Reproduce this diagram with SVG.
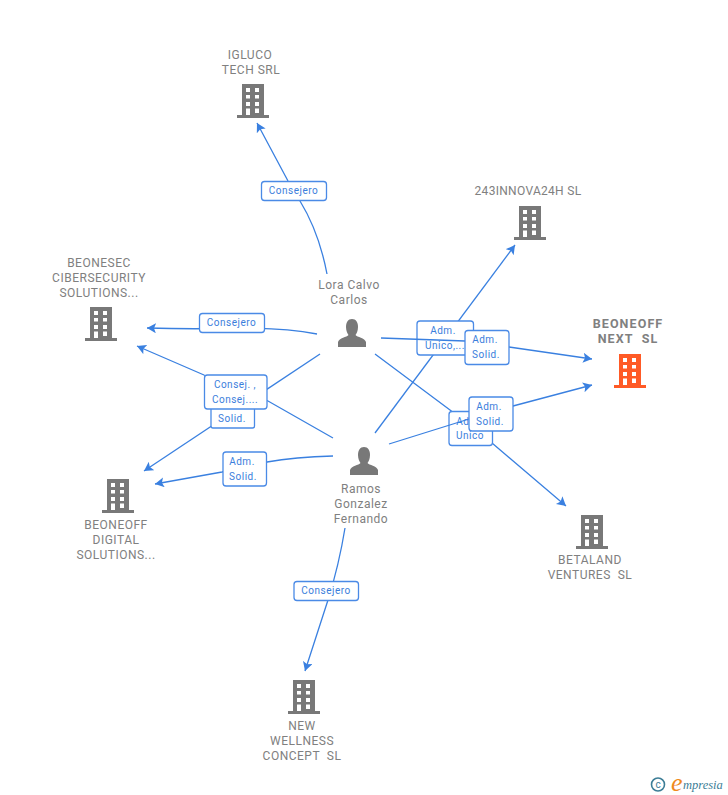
<svg xmlns="http://www.w3.org/2000/svg" xmlns:xlink="http://www.w3.org/1999/xlink" width="728" height="795" viewBox="0 0 728 795">
<style>
text{font-family:Roboto,"Liberation Sans",sans-serif;white-space:pre}
.n{font-size:12px;fill:#808080;text-anchor:middle;letter-spacing:.5px}
.h{font-size:12.500px;fill:#808080;text-anchor:middle;font-weight:700;letter-spacing:1.100px}
.e{fill:none;stroke:#3a80e0;stroke-width:1.300}
.b{fill:#fff;stroke:#4a8ae6;stroke-width:1.300}
.t{font-size:10px;fill:#3a7edc;text-anchor:middle;letter-spacing:.5px}
.g{fill:#787878}
.o{fill:#ff5a26}
.w{fill:#fff}
</style>
<defs>
<marker id="a" markerWidth="11" markerHeight="11" refX="9" refY="5" orient="auto" markerUnits="userSpaceOnUse"><path d="M0 0L9 5L0 10L2 5Z" fill="#3a80e0"/></marker>
<symbol id="bld" width="32" height="34" viewBox="0 0 32 34" overflow="visible">
<path d="M5 0H27V31H32V34H0V31H5Z"/>
<path class="w" d="M9 4h4v4h-4zM18 4h4v4h-4zM9 11h4v3.500h-4zM18 11h4v3.500h-4zM9 18h4v4h-4zM18 18h4v4h-4zM9 24.500h4v6.500h-4zM18 24.500h4v4.500h-4z"/>
</symbol>
<symbol id="per" width="28" height="28" viewBox="0 0 28 28">
<path d="M14 0C18 0 20 3.500 20 8C20 12 18.500 14.500 17.500 16C19 18 27 19 28 23V28H0V23C1 19 9 18 10.500 16C9.500 14.500 8 12 8 8C8 3.500 10 0 14 0Z"/>
</symbol>
</defs>
<rect width="728" height="795" fill="#fff"/>
<g id="connectors">
<path class="e" marker-end="url(#a)" d="M327 274Q319 232 300 201L288 181L257 123"/>
<rect class="b" x="261.500" y="181.500" width="65" height="19" rx="3"/><text class="t" x="293.500" y="194">Consejero</text>
<path class="e" marker-end="url(#a)" d="M317 334C295 330 265 328 240 328C210 329 180 329 147 328"/>
<rect class="b" x="199.500" y="313.500" width="65" height="19" rx="3"/><text class="t" x="231.500" y="326">Consejero</text>
<path class="e" marker-end="url(#a)" d="M320 354L144 471"/>
<rect class="b" x="211" y="405" width="43.500" height="23" rx="2"/><text class="t" x="232" y="422">Solid.</text>
<path class="e" marker-end="url(#a)" d="M333 438L268 401L204 375L137 346"/>
<rect class="b" x="204.500" y="375" width="62.500" height="34" rx="3"/><text class="t" x="235" y="388">Consej. ,</text><text class="t" x="235" y="403">Consej....</text>
<path class="e" marker-end="url(#a)" d="M333 456Q295 457 267 462L222 472L155 484"/>
<rect class="b" x="223" y="452" width="43.500" height="34" rx="3"/><text class="t" x="242" y="465">Adm.</text><text class="t" x="243" y="480">Solid.</text>
<path class="e" marker-end="url(#a)" d="M345 528Q339 565 328 600L305 671"/>
<rect class="b" x="294" y="581.500" width="64.500" height="19" rx="3"/><text class="t" x="326" y="594">Consejero</text>
<path class="e" marker-end="url(#a)" d="M375 433L515 245"/>
<rect class="b" x="417" y="321" width="56.500" height="34" rx="3"/><text class="t" x="443" y="334">Adm.</text><text class="t" x="445" y="349">Unico,...</text>
<path class="e" marker-end="url(#a)" d="M375 354L450 410L492 443L566 506"/>
<rect class="b" x="449" y="411.500" width="43.500" height="34" rx="3"/><text class="t" x="469" y="424.500">Adm.</text><text class="t" x="470" y="439">Unico</text>
<path class="e" marker-end="url(#a)" d="M381 338L465 341L509 347L592 359"/>
<rect class="b" x="465" y="330.500" width="44" height="34" rx="3"/><text class="t" x="485" y="343">Adm.</text><text class="t" x="486" y="358">Solid.</text>
<path class="e" marker-end="url(#a)" d="M389 444L469 419L513 406L592 385"/>
<rect class="b" x="469" y="397" width="44" height="34" rx="3"/><text class="t" x="489" y="410">Adm.</text><text class="t" x="490" y="425">Solid.</text>
</g>
<g id="igluco"><text class="n" x="250" y="59">IGLUCO</text><text class="n" x="251" y="74">TECH SRL</text><use href="#bld" class="g" x="237" y="84"/></g>
<g id="innova"><text class="n" x="528" y="195" style="letter-spacing:.3px">243INNOVA24H SL</text><use href="#bld" class="g" x="514" y="206"/></g>
<g id="beonesec"><text class="n" x="99" y="267">BEONESEC</text><text class="n" x="99" y="282">CIBERSECURITY</text><text class="n" x="99" y="297">SOLUTIONS...</text><use href="#bld" class="g" x="85" y="307"/></g>
<g id="next"><text class="h" x="628" y="328">BEONEOFF</text><text class="h" x="628" y="343">NEXT  SL</text><use href="#bld" class="o" x="614" y="354"/></g>
<g id="digital"><use href="#bld" class="g" x="102" y="479"/><text class="n" x="116" y="529">BEONEOFF</text><text class="n" x="116" y="544">DIGITAL</text><text class="n" x="116" y="559">SOLUTIONS...</text></g>
<g id="betaland"><use href="#bld" class="g" x="576" y="515"/><text class="n" x="590" y="564">BETALAND</text><text class="n" x="590" y="579">VENTURES  SL</text></g>
<g id="wellness"><use href="#bld" class="g" x="288" y="680"/><text class="n" x="302" y="730">NEW</text><text class="n" x="302" y="745">WELLNESS</text><text class="n" x="302" y="760">CONCEPT  SL</text></g>
<g id="lora"><text class="n" x="349" y="289">Lora Calvo</text><text class="n" x="349" y="304">Carlos</text><use href="#per" class="g" x="338" y="319"/></g>
<g id="ramos"><use href="#per" class="g" x="350" y="447"/><text class="n" x="361" y="493">Ramos</text><text class="n" x="361" y="508">Gonzalez</text><text class="n" x="361" y="523">Fernando</text></g>
<g id="watermark"><circle cx="658" cy="784.500" r="6.500" fill="none" stroke="#3c7d96" stroke-width="1.600"/><text x="658" y="788" font-size="10" fill="#3c7d96" text-anchor="middle">c</text><text x="671" y="791" font-size="26" fill="#f08a1d" font-style="italic" style="font-family:'Liberation Serif',serif">e</text><text x="683" y="789" font-size="12.500" fill="#3c7d96" font-style="italic" style="font-family:'Liberation Serif',serif">mpresia</text></g>
</svg>
